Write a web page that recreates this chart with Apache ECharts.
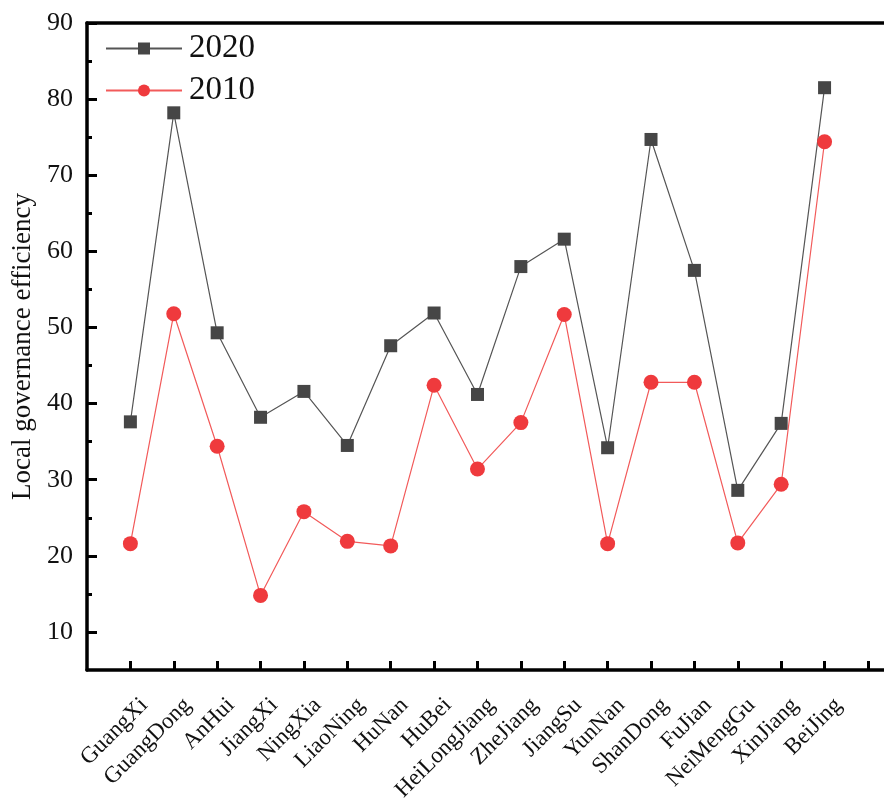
<!DOCTYPE html>
<html>
<head>
<meta charset="utf-8">
<script src="https://cdn.jsdelivr.net/npm/echarts@6/dist/echarts.min.js"></script>
<style>
  html, body { margin: 0; padding: 0; background: #fff; }
  #chart { width: 884px; height: 804px; }
</style>
</head>
<body>
<div id="chart"></div>
<script>
const provinces = ['GuangXi', 'GuangDong', 'AnHui', 'JiangXi', 'NingXia', 'LiaoNing', 'HuNan', 'HuBei',
  'HeiLongJiang', 'ZheJiang', 'JiangSu', 'YunNan', 'ShanDong', 'FuJian', 'NeiMengGu', 'XinJiang', 'BeiJing']
const values2020 = [37.6, 78.2, 49.3, 38.2, 41.6, 34.5, 47.6, 51.9, 41.2, 58.0, 61.6, 34.2, 74.7, 57.5, 28.6, 37.4, 81.5]
const values2010 = [21.6, 51.8, 34.4, 14.8, 25.8, 21.9, 21.3, 42.4, 31.4, 37.5, 51.7, 21.6, 42.8, 42.8, 21.7, 29.4, 74.4]
const yMajorTicks = [10, 20, 30, 40, 50, 60, 70, 80, 90]
const yMinorTicks = [15, 25, 35, 45, 55, 65, 75, 85]

const font = '"Liberation Serif", "Times New Roman", serif'
const xPositions = provinces.map((p, i) => i + 1)
const xTickPositions = xPositions.concat([provinces.length + 1])

const chart = echarts.init(document.getElementById('chart'))

chart.setOption({
  backgroundColor: '#fff',
  animation: false,
  legend: {
    orient: 'vertical',
    left: 100,
    top: 27,
    itemWidth: 76,
    itemHeight: 15,
    itemGap: 9,
    textStyle: { fontFamily: font, fontSize: 33, color: '#111', padding: [0, 0, 0, 2] },
    data: ['2020', '2010']
  },
  grid: { left: 87, right: 0, top: 23, bottom: 134, containLabel: false, outerBoundsMode: 'none' },
  xAxis: [
    {
      type: 'value',
      min: 0,
      max: 18.37,
      splitLine: { show: false },
      axisLine: { lineStyle: { color: '#000', width: 3.5 } },
      axisTick: { inside: true, length: 9, customValues: xTickPositions, lineStyle: { color: '#000', width: 3 } },
      axisLabel: {
        customValues: xPositions,
        rotate: 45,
        margin: 18,
        verticalAlign: 'top',
        padding: [8, 0, 0, 0],
        fontFamily: font,
        fontSize: 23,
        color: '#111',
        formatter: function(v) {
          return provinces[Math.round(v) - 1] || ''
        }
      }
    },
    {
      type: 'value',
      position: 'top',
      min: 0,
      max: 18.37,
      splitLine: { show: false },
      axisLine: { show: true, lineStyle: { color: '#000', width: 3.5 } },
      axisTick: { show: false },
      axisLabel: { show: false }
    }
  ],
  yAxis: [
    {
      type: 'value',
      min: 5,
      max: 90,
      interval: 5,
      name: 'Local governance efficiency',
      nameLocation: 'middle',
      nameGap: 42,
      nameTextStyle: { fontFamily: font, fontSize: 27, color: '#111' },
      splitLine: { show: false },
      axisLine: { show: true, lineStyle: { color: '#000', width: 3.5 } },
      axisTick: { inside: true, length: 10, customValues: yMajorTicks, lineStyle: { color: '#000', width: 3 } },
      axisLabel: { customValues: yMajorTicks, margin: 14, fontFamily: font, fontSize: 26, color: '#111' }
    },
    {
      type: 'value',
      position: 'left',
      min: 5,
      max: 90,
      interval: 5,
      splitLine: { show: false },
      axisLine: { show: false },
      axisTick: { inside: true, length: 5, customValues: yMinorTicks, lineStyle: { color: '#000', width: 3 } },
      axisLabel: { show: false }
    }
  ],
  series: [
    {
      name: '2020',
      type: 'line',
      data: values2020.map((v, i) => [xPositions[i], v]),
      symbol: 'rect',
      symbolSize: 13,
      itemStyle: { color: '#464646' },
      lineStyle: { color: '#555', width: 1.2 },
      z: 3
    },
    {
      name: '2010',
      type: 'line',
      data: values2010.map((v, i) => [xPositions[i], v]),
      symbol: 'circle',
      symbolSize: 15,
      itemStyle: { color: '#ef3a3d' },
      lineStyle: { color: '#f25a5a', width: 1.2 },
      z: 4
    }
  ]
})
</script>
</body>
</html>
